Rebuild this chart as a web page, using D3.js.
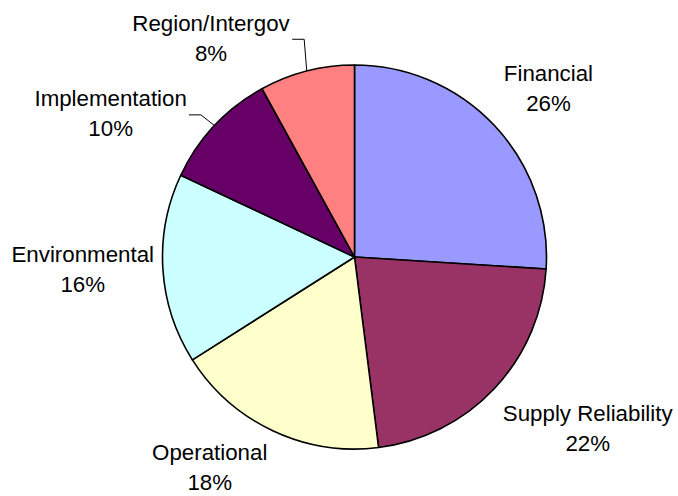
<!DOCTYPE html>
<html>
<head>
<meta charset="utf-8">
<script src="https://cdn.jsdelivr.net/npm/d3@7/dist/d3.min.js"></script>
<style>
  html, body { margin: 0; padding: 0; background: #fff; }
  svg { display: block; }
  text { font-family: "Liberation Sans", Arial, sans-serif; fill: #000; }
</style>
</head>
<body>
<svg id="chart" width="678" height="496"></svg>
<script>
// Share of issues by category (percent), clockwise from 12 o'clock
const categories = ["Financial", "Supply Reliability", "Operational", "Environmental", "Implementation", "Region/Intergov"];
const shares = [26, 22, 18, 16, 10, 8];
const colors = ["#9999FF", "#993366", "#FFFFCC", "#CCFFFF", "#660066", "#FF8080"];

// Label placement: angular nudge (degrees) from slice middle, distance from centre, leader line flag
const labelNudge = [2.2, -7, 9.4, 1.1, -12.7, -18.8];
const labelDist = [257, 289, 255, 272, 283, 262];
const labelLeader = [false, false, false, false, true, true];

const width = 678, height = 496;
const cx = 354.5, cy = 257, radius = 192;
const fontSize = 22.3, lineGap = 30;

const svg = d3.select("#chart");
const g = svg.append("g").attr("transform", `translate(${cx},${cy})`);

const data = categories.map((c, i) => ({ name: c, value: shares[i], color: colors[i], i }));

const pie = d3.pie().sort(null).value(d => d.value);
const arc = d3.arc().innerRadius(0).outerRadius(radius);
const arcs = pie(data);

g.selectAll("path.slice")
  .data(arcs)
  .join("path")
  .attr("class", "slice")
  .attr("d", arc)
  .attr("fill", d => d.data.color)
  .attr("stroke", "#000")
  .attr("stroke-width", 1.6)
  .attr("stroke-linejoin", "round");

const fmt = d3.format(".0%");
const total = d3.sum(shares);

arcs.forEach(a => {
  const i = a.data.i;
  const mid = (a.startAngle + a.endAngle) / 2;
  const ang = mid + labelNudge[i] * Math.PI / 180;
  const lx = Math.sin(ang) * labelDist[i];
  const ly = -Math.cos(ang) * labelDist[i];

  const t = g.append("text")
    .attr("text-anchor", "middle")
    .style("font-size", fontSize + "px");
  t.append("tspan").attr("x", lx).attr("y", ly - lineGap / 2 + 7.9).text(a.data.name);
  t.append("tspan").attr("x", lx).attr("y", ly + lineGap / 2 + 7.9).text(fmt(a.data.value / total));

  if (labelLeader[i]) {
    const w = t.node().getBBox().width;
    const x0 = lx + w / 2 + 2;
    const y0 = ly + 1.5;
    const ex = Math.sin(mid) * radius;
    const ey = -Math.cos(mid) * radius;
    g.append("polyline")
      .attr("points", `${x0},${y0} ${x0 + 12},${y0} ${ex},${ey}`)
      .attr("fill", "none")
      .attr("stroke", "#000")
      .attr("stroke-width", 1);
  }
});
</script>
</body>
</html>
